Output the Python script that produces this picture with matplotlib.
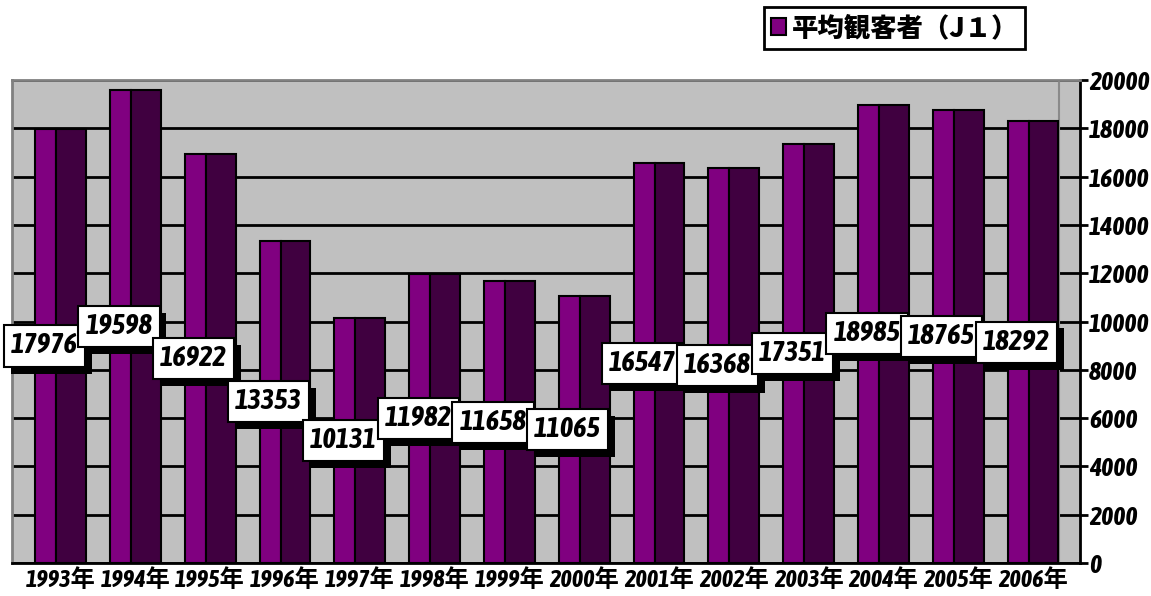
import matplotlib
matplotlib.use('Agg')
import matplotlib.pyplot as plt
import matplotlib.patheffects as pe
from matplotlib import font_manager
import numpy as np

# ---- data ----
years = ['1993年', '1994年', '1995年', '1996年', '1997年', '1998年', '1999年',
         '2000年', '2001年', '2002年', '2003年', '2004年', '2005年', '2006年']
values = [17976, 19598, 16922, 13353, 10131, 11982, 11658,
          11065, 16547, 16368, 17351, 18985, 18765, 18292]
series_name = '平均観客者（J１）'
yticks = list(range(0, 20001, 2000))

names = {f.name for f in font_manager.fontManager.ttflist}
num_font = next((n for n in ['Asap Condensed', 'Archivo Narrow', 'Liberation Sans Narrow']
                 if n in names), 'DejaVu Sans')
fam = [num_font, 'Noto Sans CJK JP']

W, H = 1151, 596
fig = plt.figure(figsize=(W / 100, H / 100), dpi=100)
ax = fig.add_axes([12 / W, 1 - 563 / H, (1080 - 12) / W, (563 - 80) / H])
slot = 74.8
nslots = (1080 - 12) / slot
ax.set_xlim(-0.5, -0.5 + nslots)
ax.set_ylim(0, 20000)
ax.set_facecolor('#C0C0C0')
ax.set_axisbelow(True)
ax.yaxis.grid(True, color='black', lw=2)

x = np.arange(len(years))
front = ax.bar(x - 0.19, values, width=0.28, align='edge', color='#800080',
               edgecolor='black', linewidth=1.5, zorder=3)
side = ax.bar(x + 0.09, values, width=0.40, align='edge', color='#400040',
              edgecolor='black', linewidth=1.5, zorder=3)
ax.axvline(13.5, color='#8A8A8A', lw=1.5, zorder=1)

for s in ['left', 'top']:
    ax.spines[s].set_color('#808080')
    ax.spines[s].set_linewidth(2)
for s in ['right', 'bottom']:
    ax.spines[s].set_color('black')
    ax.spines[s].set_linewidth(2)

ax.yaxis.tick_right()
ax.set_yticks(yticks)
ax.set_yticklabels([str(v) for v in yticks], family=fam, fontsize=18.5,
                   fontweight='bold', style='italic')
ax.tick_params(axis='y', length=6, width=2, pad=0.5, colors='black')

ax.set_xticks(x + 0.15)
ax.set_xticklabels(years, family=fam, fontsize=17.5, fontweight='bold', style='italic')
ax.tick_params(axis='x', length=0, pad=4.5)

for i, v in enumerate(values):
    t = ax.text(i - 0.07, v / 2, str(v), ha='center', va='center',
                family=fam, fontsize=20.5, fontweight='bold', style='italic',
                zorder=6, clip_on=False,
                bbox=dict(boxstyle='square,pad=0.25', fc='white', ec='black', lw=1.5))
    t.get_bbox_patch().set_path_effects([
        pe.SimplePatchShadow(offset=(5, -5), shadow_rgbFace='black', alpha=1.0),
        pe.Normal()])

leg = fig.legend([front], [series_name], loc='upper left',
                 bbox_to_anchor=(764 / W, 1 - 7 / H),
                 prop=dict(family=['Noto Sans CJK JP'], size=19, weight='heavy'),
                 frameon=True, fancybox=False, framealpha=1, edgecolor='black',
                 handlelength=0.6, handleheight=0.6, handletextpad=0.2,
                 borderpad=0.25, borderaxespad=0)
leg.get_frame().set_linewidth(2)

fig.savefig('out.png', dpi=100)
